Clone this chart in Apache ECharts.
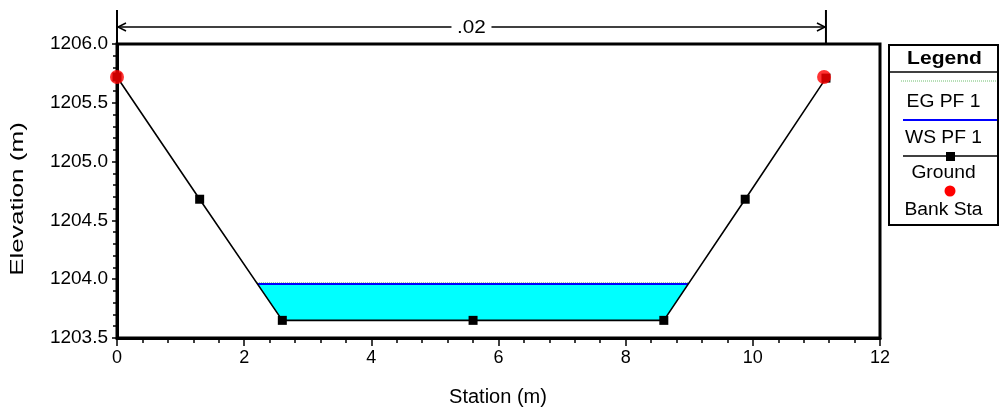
<!DOCTYPE html>
<html>
<head>
<meta charset="utf-8">
<script src="https://cdn.jsdelivr.net/npm/echarts@6/dist/echarts.min.js"></script>
<style>
html,body{margin:0;padding:0;background:#fff;}
#c{width:1000px;height:407px;}
</style>
</head>
<body>
<div id="c"></div>
<script>
// ---- data ----
const groundStation = [0, 1.3, 2.6, 5.6, 8.6, 9.88, 11.15];
const groundElev = [1205.72, 1204.68, 1203.65, 1203.65, 1203.65, 1204.68, 1205.71];
const bankStation = [0, 11.12];
const bankElev = [1205.72, 1205.72];
const wsStation = [2.21, 8.98];
const wsElev = [1203.96, 1203.96];
const egStation = [2.2, 8.99];
const egElev = [1203.97, 1203.97];
const nValueLabel = '.02';
const nValueSpan = [0, 11.15];
const xTicks = [0, 2, 4, 6, 8, 10, 12];
const yTicks = [1203.5, 1204.0, 1204.5, 1205.0, 1205.5, 1206.0];
const legendItems = ['EG PF 1', 'WS PF 1', 'Ground', 'Bank Sta'];

const FONT = '"Liberation Sans", Arial, sans-serif';
const chart = echarts.init(document.getElementById('c'), null, {renderer: 'canvas'});

const groundData = groundStation.map((s, i) => [s, groundElev[i]]);
const bankData = bankStation.map((s, i) => [s, bankElev[i]]);
const wsData = wsStation.map((s, i) => [s, wsElev[i]]);
const egData = egStation.map((s, i) => [s, egElev[i]]);
// water polygon: WS line and the channel bottom points of the ground under it
const waterPoly = [wsData[0], wsData[1], groundData[4], groundData[2]];

chart.setOption({
  animation: false,
  backgroundColor: '#fff',
  grid: {left: 117, right: 120, top: 44, bottom: 69, show: true, borderColor: '#000', borderWidth: 3, backgroundColor: 'transparent'},
  xAxis: {
    type: 'value', min: xTicks[0], max: xTicks[xTicks.length - 1], interval: 2,
    axisLine: {show: true, onZero: false, lineStyle: {color: '#000', width: 3}},
    axisTick: {show: true, length: 8, lineStyle: {color: '#000', width: 1.5}},
    minorTick: {show: true, splitNumber: 5, length: 5, lineStyle: {color: '#000', width: 1.5}},
    splitLine: {show: false},
    axisLabel: {color: '#000', fontFamily: FONT, fontSize: 18, margin: 11}
  },
  yAxis: {
    type: 'value', min: yTicks[0], max: yTicks[yTicks.length - 1], interval: 0.5,
    axisLine: {show: true, onZero: false, lineStyle: {color: '#000', width: 3}},
    axisTick: {show: true, length: 5, lineStyle: {color: '#000', width: 1.5}},
    minorTick: {show: true, splitNumber: 5, length: 4, lineStyle: {color: '#000', width: 1.5}},
    splitLine: {show: false},
    axisLabel: {color: '#000', fontFamily: FONT, fontSize: 19, margin: 9, formatter: v => v.toFixed(1)}
  },
  series: [
    {
      type: 'custom', name: 'water', data: [wsData[0]], z: 1, silent: true,
      renderItem: (params, api) => ({
        type: 'polygon',
        shape: {points: waterPoly.map(p => api.coord(p))},
        style: {fill: '#00FFFF'}
      })
    },
    {type: 'line', name: 'EG PF 1', data: egData, symbol: 'none', z: 2,
      lineStyle: {color: '#6fbf6f', width: 1, type: [1, 1]}},
    {type: 'line', name: 'WS PF 1', data: wsData, symbol: 'none', z: 3,
      lineStyle: {color: '#0000ff', width: 2}},
    {type: 'line', name: 'Ground', data: groundData, symbol: 'rect', symbolSize: 9, z: 4,
      itemStyle: {color: '#000'}, lineStyle: {color: '#000', width: 1.6}},
    {type: 'scatter', name: 'Bank Sta', data: bankData, symbol: 'circle', symbolSize: 14, z: 5,
      itemStyle: {color: '#ff0000'}}
  ]
});

// ---- annotations (dimension line, axis titles, legend) ----
const x0 = chart.convertToPixel({xAxisIndex: 0}, nValueSpan[0]);
const x1 = chart.convertToPixel({xAxisIndex: 0}, nValueSpan[1]);
const yTop = 44, yDim = 27, yStart = 10;
const xm = (x0 + x1) / 2;
const g = [];
const ls = {stroke: '#000', lineWidth: 1.5};
g.push({type: 'line', shape: {x1: x0, y1: yStart, x2: x0, y2: yTop}, style: {stroke: '#000', lineWidth: 2}});
g.push({type: 'line', shape: {x1: x1, y1: yStart, x2: x1, y2: yTop}, style: {stroke: '#000', lineWidth: 2}});
g.push({type: 'line', shape: {x1: x0, y1: yDim, x2: xm - 20, y2: yDim}, style: ls});
g.push({type: 'line', shape: {x1: xm + 20, y1: yDim, x2: x1, y2: yDim}, style: ls});
g.push({type: 'polyline', shape: {points: [[x0 + 9, yDim - 4], [x0 + 1, yDim], [x0 + 9, yDim + 4]]}, style: {stroke: '#000', lineWidth: 1.5, fill: null}});
g.push({type: 'polyline', shape: {points: [[x1 - 9, yDim - 4], [x1 - 1, yDim], [x1 - 9, yDim + 4]]}, style: {stroke: '#000', lineWidth: 1.5, fill: null}});
g.push({type: 'text', x: xm, y: yDim + 1, scaleX: 1.15, style: {text: nValueLabel, font: '18px ' + FONT, fill: '#000', textAlign: 'center', textVerticalAlign: 'middle'}});

// axis titles
g.push({type: 'text', x: 18, y: 199, rotation: Math.PI / 2, scaleX: 1.45, scaleY: 1,
  style: {text: 'Elevation (m)', font: '18px ' + FONT, fill: '#000', textAlign: 'center', textVerticalAlign: 'middle'}});
g.push({type: 'text', x: 498, y: 397, style: {text: 'Station (m)', font: '20px ' + FONT, fill: '#000', textAlign: 'center', textVerticalAlign: 'middle'}});

// legend box
const lx = 889, ly = 45, lw = 109, lh = 180;
const lcx = lx + lw / 2;
const itemText = (t, y) => ({type: 'text', x: lcx, y: y, scaleX: 1.07, style: {text: t, font: '18px ' + FONT, fill: '#000', textAlign: 'center', textVerticalAlign: 'middle'}});
g.push({type: 'rect', shape: {x: lx, y: ly, width: lw, height: lh}, style: {fill: '#fff', stroke: '#000', lineWidth: 2}});
g.push({type: 'text', x: lcx + 1, y: 59, scaleX: 1.17, style: {text: 'Legend', font: 'bold 18px ' + FONT, fill: '#000', textAlign: 'center', textVerticalAlign: 'middle'}});
g.push({type: 'line', shape: {x1: lx, y1: 72, x2: lx + lw, y2: 72}, style: {stroke: '#000', lineWidth: 1.5}});
// EG
g.push({type: 'line', shape: {x1: 901, y1: 81, x2: 996, y2: 81}, style: {stroke: '#6fbf6f', lineWidth: 1, lineDash: [1, 1]}});
g.push(itemText(legendItems[0], 102));
// WS
g.push({type: 'line', shape: {x1: 903, y1: 120, x2: 997, y2: 120}, style: {stroke: '#0000ff', lineWidth: 2}});
g.push(itemText(legendItems[1], 138));
// Ground
g.push({type: 'line', shape: {x1: 903, y1: 156, x2: 997, y2: 156}, style: {stroke: '#000', lineWidth: 1.5}});
g.push({type: 'rect', shape: {x: 946, y: 152, width: 9, height: 9}, style: {fill: '#000'}});
g.push(itemText(legendItems[2], 173));
// Bank Sta
g.push({type: 'circle', shape: {cx: 950, cy: 191, r: 5.5}, style: {fill: '#ff0000'}});
g.push(itemText(legendItems[3], 210));

chart.setOption({graphic: {elements: g}});
</script>
</body>
</html>
